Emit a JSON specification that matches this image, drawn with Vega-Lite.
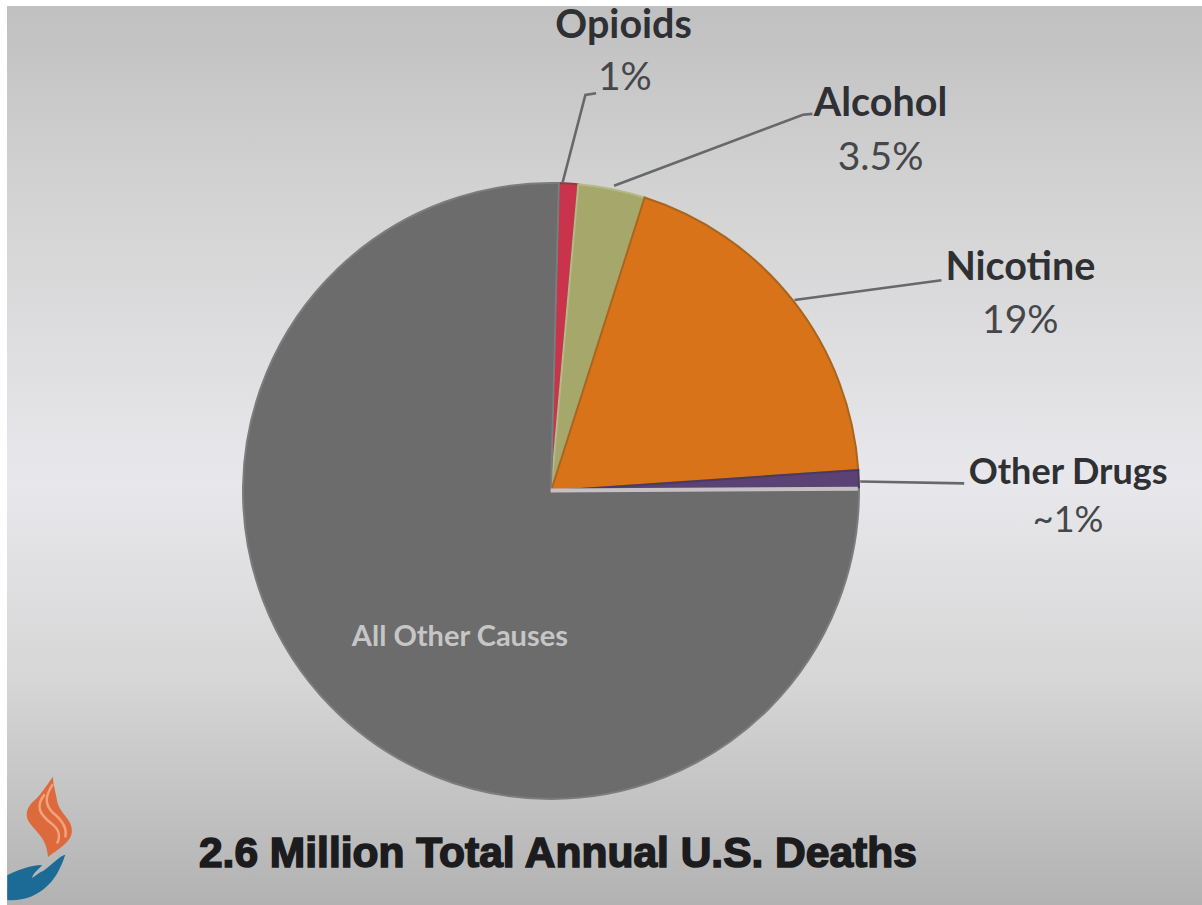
{
  "$schema": "https://vega.github.io/schema/vega-lite/v6.json",
  "width": 1195,
  "height": 899,
  "padding": {"left": 7, "top": 6, "right": 0, "bottom": 0},
  "autosize": {"type": "none"},
  "background": "#ffffff",
  "view": {
    "stroke": null,
    "fill": {
      "x1": 0, "y1": 0, "x2": 0, "y2": 1, "gradient": "linear",
      "stops": [
        {"offset": 0, "color": "#c0c0c0"},
        {"offset": 0.2, "color": "#d2d2d2"},
        {"offset": 0.53, "color": "#e8e8ec"},
        {"offset": 0.75, "color": "#d6d6d6"},
        {"offset": 1, "color": "#b2b2b2"}
      ]
    }
  },
  "datasets": {
    "causes": [
      {"cause": "Opioids", "share": 1, "rank": 1},
      {"cause": "Alcohol", "share": 3.5, "rank": 2},
      {"cause": "Nicotine", "share": 19, "rank": 3},
      {"cause": "Other Drugs", "share": 1, "rank": 4},
      {"cause": "All Other Causes", "share": 75.5, "rank": 5}
    ],
    "names": [
      {"text": "Opioids", "px": 51.6, "py": 2.2},
      {"text": "Alcohol", "px": 73.1, "py": 10.9},
      {"text": "Nicotine", "px": 84.8, "py": 29.1}
    ],
    "shares": [
      {"text": "1%", "px": 51.7, "py": 8.0},
      {"text": "3.5%", "px": 73.1, "py": 16.9},
      {"text": "19%", "px": 84.8, "py": 35.0}
    ],
    "leaders": [
      {"cause": "Opioids", "seq": 1, "px": 46.5, "py": 19.6},
      {"cause": "Opioids", "seq": 2, "px": 48.4, "py": 9.9},
      {"cause": "Opioids", "seq": 3, "px": 49.3, "py": 9.7},
      {"cause": "Alcohol", "seq": 1, "px": 50.8, "py": 20.0},
      {"cause": "Alcohol", "seq": 2, "px": 66.6, "py": 12.1},
      {"cause": "Alcohol", "seq": 3, "px": 67.4, "py": 12.0},
      {"cause": "Nicotine", "seq": 1, "px": 65.9, "py": 32.7},
      {"cause": "Nicotine", "seq": 2, "px": 78.2, "py": 30.5},
      {"cause": "Other Drugs", "seq": 1, "px": 71.4, "py": 52.9},
      {"cause": "Other Drugs", "seq": 2, "px": 80.1, "py": 53.1}
    ]
  },
  "encoding": {
    "x": {"type": "quantitative", "scale": {"domain": [0, 100]}, "axis": null},
    "y": {"type": "quantitative", "scale": {"domain": [100, 0]}, "axis": null}
  },
  "layer": [
    {
      "data": {"name": "causes"},
      "mark": {"type": "arc", "x": 544, "y": 485, "outerRadius": 308, "strokeWidth": 2},
      "encoding": {
        "x": null,
        "y": null,
        "theta": {"field": "share", "type": "quantitative", "stack": true, "scale": {"domain": [0, 100], "range": [0.026, 6.309]}},
        "order": {"field": "rank", "type": "ordinal"},
        "fill": {
          "field": "cause", "type": "nominal", "legend": null,
          "scale": {
            "domain": ["Opioids", "Alcohol", "Nicotine", "Other Drugs", "All Other Causes"],
            "range": ["#c9344c", "#a5a86a", "#d8731a", "#5a4274", "#6c6c6c"]
          }
        },
        "stroke": {
          "field": "cause", "type": "nominal", "legend": null,
          "scale": {
            "domain": ["Opioids", "Alcohol", "Nicotine", "Other Drugs", "All Other Causes"],
            "range": ["#8f3a45", "#b5b98a", "#a8651f", "#4a3a5e", "#7c7c7c"]
          }
        }
      }
    },
    {
      "data": {"values": [{"seq": 1, "px": 45.5, "py": 53.9}, {"seq": 2, "px": 71.2, "py": 53.7}]},
      "mark": {"type": "line", "color": "#c4c0c4", "strokeWidth": 4},
      "encoding": {
        "x": {"field": "px", "type": "quantitative"},
        "y": {"field": "py", "type": "quantitative"},
        "order": {"field": "seq"}
      }
    },
    {
      "data": {"name": "leaders"},
      "mark": {"type": "line", "color": "#66686a", "strokeWidth": 2.6},
      "encoding": {
        "x": {"field": "px", "type": "quantitative"},
        "y": {"field": "py", "type": "quantitative"},
        "detail": {"field": "cause"},
        "order": {"field": "seq"}
      }
    },
    {
      "data": {"name": "names"},
      "mark": {"type": "text", "font": "Lato", "fontWeight": "bold", "fontSize": 39.5, "color": "#2e3033", "align": "center", "baseline": "middle"},
      "encoding": {
        "x": {"field": "px", "type": "quantitative"},
        "y": {"field": "py", "type": "quantitative"},
        "text": {"field": "text"}
      }
    },
    {
      "data": {"name": "shares"},
      "mark": {"type": "text", "font": "Lato", "fontSize": 39, "color": "#45474a", "align": "center", "baseline": "middle"},
      "encoding": {
        "x": {"field": "px", "type": "quantitative"},
        "y": {"field": "py", "type": "quantitative"},
        "text": {"field": "text"}
      }
    },
    {
      "data": {"values": [{"text": "Other Drugs", "px": 88.8, "py": 51.9}]},
      "mark": {"type": "text", "font": "Lato", "fontWeight": "bold", "fontSize": 36, "color": "#2e3033", "align": "center", "baseline": "middle"},
      "encoding": {
        "x": {"field": "px", "type": "quantitative"},
        "y": {"field": "py", "type": "quantitative"},
        "text": {"field": "text"}
      }
    },
    {
      "data": {"values": [{"text": "~1%", "px": 88.8, "py": 57.3}]},
      "mark": {"type": "text", "font": "Lato", "fontSize": 36, "color": "#45474a", "align": "center", "baseline": "middle"},
      "encoding": {
        "x": {"field": "px", "type": "quantitative"},
        "y": {"field": "py", "type": "quantitative"},
        "text": {"field": "text"}
      }
    },
    {
      "data": {"values": [{"text": "All Other Causes", "px": 37.9, "py": 70.2}]},
      "mark": {"type": "text", "font": "Lato", "fontWeight": "bold", "fontSize": 29, "color": "#c6c6c6", "align": "center", "baseline": "middle"},
      "encoding": {
        "x": {"field": "px", "type": "quantitative"},
        "y": {"field": "py", "type": "quantitative"},
        "text": {"field": "text"}
      }
    },
    {
      "data": {"values": [{"text": "2.6 Million Total Annual U.S. Deaths", "px": 46.1, "py": 94.3}]},
      "mark": {"type": "text", "font": "Liberation Sans", "fontWeight": "bold", "fontSize": 42.5, "color": "#1c1c1e", "stroke": "#1c1c1e", "strokeWidth": 1.6, "align": "center", "baseline": "middle"},
      "encoding": {
        "x": {"field": "px", "type": "quantitative"},
        "y": {"field": "py", "type": "quantitative"},
        "text": {"field": "text"}
      }
    },
    {
      "data": {"values": [{"part": "flame", "px": 3.5, "py": 90.2}]},
      "mark": {
        "type": "point", "filled": true, "color": "#dd6a3c", "opacity": 1, "size": 6724,
        "shape": "M.1-.98C-.1-.7-.2-.55-.3-.45C-.5-.3-.6-.1-.5.1C-.3.4-.05.5-.02.98C.2.8.6.6.56.3C.55.05.25-.1.2-.4C.17-.6.1-.8.1-.98Z"
      },
      "encoding": {
        "x": {"field": "px", "type": "quantitative"},
        "y": {"field": "py", "type": "quantitative"}
      }
    },
    {
      "data": {"values": [{"part": "flame highlight", "px": 3.5, "py": 90.2}]},
      "mark": {
        "type": "point", "filled": false, "color": "#f3a27c", "strokeWidth": 2.5, "opacity": 1, "size": 6724,
        "shape": "M-.1-.55C-.35-.25-.2-.05.05.15C.25.3.3.45.2.65M.1-.8C-.1-.5-.1-.3.1-.1C.35.1.45.3.4.5"
      },
      "encoding": {
        "x": {"field": "px", "type": "quantitative"},
        "y": {"field": "py", "type": "quantitative"}
      }
    },
    {
      "data": {"values": [{"part": "hand", "px": 2.45, "py": 97.0}]},
      "mark": {
        "type": "point", "filled": true, "color": "#1c6a96", "opacity": 1, "size": 3364,
        "shape": "M1-.8C.8-.75.6-.5.25-.25C.1-.2-.05-.05-.15 0C-.1-.2.1-.3.2-.45C-.2-.45-.7-.25-1-.1L-1 .76C-.5.8 0 .65.4.25C.7 0 .9-.5 1-.8Z"
      },
      "encoding": {
        "x": {"field": "px", "type": "quantitative"},
        "y": {"field": "py", "type": "quantitative"}
      }
    }
  ]
}
